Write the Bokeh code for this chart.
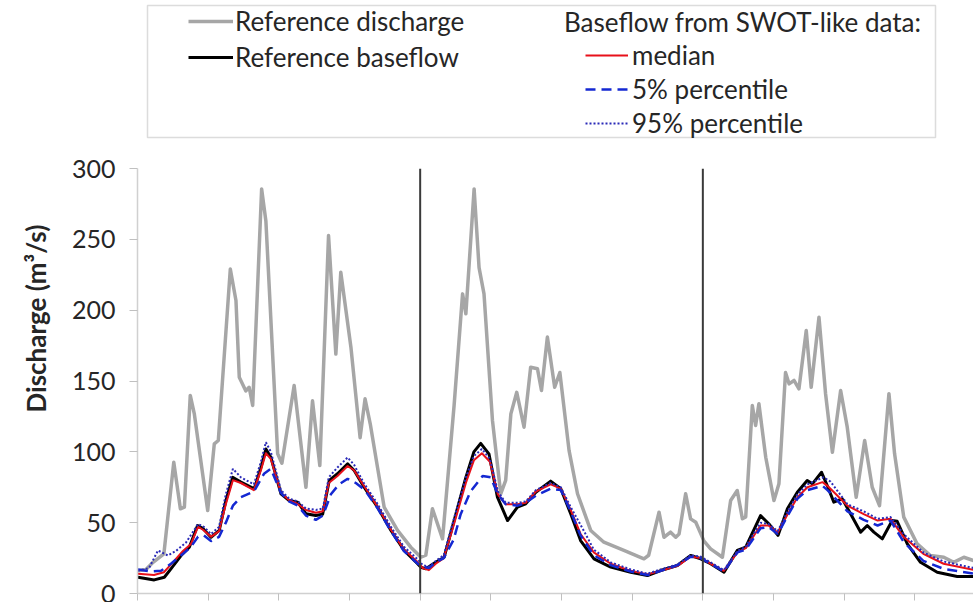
from bokeh.plotting import figure
from bokeh.layouts import column
from bokeh.models import Range1d, FixedTicker, Legend, LegendItem, Span, BoxAnnotation, Title
from bokeh.embed import file_html
from bokeh.resources import INLINE

# ---------------- data (x = month since start of record, y = m3/s) ----------------
discharge_pts = [(0.02, 16), (0.36, 17), (0.66, 22), (1.12, 28), (1.54, 92.7), (1.82, 59.8), (1.99, 61),
                 (2.24, 139.8), (2.41, 127), (2.98, 58.6), (3.26, 105.6), (3.43, 108), (3.94, 229),
                 (4.18, 206.8), (4.32, 152.7), (4.60, 143), (4.74, 145.6), (4.89, 132.7), (5.27, 285.6),
                 (5.45, 263), (5.95, 98.6), (6.13, 92), (6.65, 146.8), (7.15, 75), (7.43, 136), (7.74, 90.4),
                 (8.11, 252.7), (8.42, 169), (8.63, 226.8), (9.06, 173.9), (9.45, 110), (9.66, 137.4),
                 (9.88, 119.8), (10.19, 89), (10.47, 61), (11.04, 44.5), (11.60, 32.7), (12.03, 25.6),
                 (12.24, 27), (12.52, 59.8), (12.95, 38.6), (13.44, 132.7), (13.80, 211.5), (13.94, 197.4),
                 (14.29, 285.6), (14.50, 230), (14.71, 211.5), (15.07, 122), (15.42, 70.4), (15.63, 79.8),
                 (15.85, 126.8), (16.10, 142), (16.41, 117.4), (16.69, 159.7), (16.98, 158.6), (17.15, 143.3),
                 (17.40, 181), (17.71, 145.6), (17.93, 156), (18.32, 101), (18.68, 70.4), (19.24, 44.5),
                 (19.80, 36.2), (20.65, 30.4), (21.50, 24.5), (21.70, 27), (22.14, 57.4), (22.35, 39.7),
                 (22.63, 43.3), (22.85, 39.7), (22.99, 42), (23.27, 70.4), (23.48, 52.7), (23.70, 50.3),
                 (24.05, 37), (24.33, 31.5), (24.83, 25.6), (25.18, 65.6), (25.46, 72.7), (25.68, 52.7),
                 (25.82, 54), (26.10, 132.7), (26.24, 118.6), (26.38, 133.9), (26.67, 96.2), (27.02, 65.6),
                 (27.23, 77.4), (27.51, 156), (27.66, 148), (27.87, 150.4), (28.08, 144.5), (28.39, 185.6),
                 (28.60, 145.6), (28.93, 195), (29.21, 141), (29.50, 99.7), (29.85, 143.3), (30.13, 117.4),
                 (30.51, 68), (30.87, 108), (31.19, 75), (31.50, 62), (31.90, 141), (32.14, 98.6),
                 (32.53, 53.9), (33.10, 35), (33.66, 26.8), (34.23, 25.6), (34.65, 22), (35.08, 25.6),
                 (35.49, 23.3)]

ref_baseflow_pts = [(0.02, 11.5), (0.71, 9.6), (1.14, 11.5), (1.42, 17.4), (1.85, 26.8), (2.20, 32.7),
                    (2.55, 48), (2.77, 46), (3.12, 39.7), (3.47, 44.5), (3.75, 65.6), (4.04, 82), (4.39, 78.6),
                    (4.96, 73.9), (5.24, 89), (5.45, 102), (5.66, 96.2), (6.09, 70.4), (6.44, 65.6),
                    (6.80, 64.5), (7.15, 56.3), (7.57, 55), (7.86, 56), (8.14, 79.8), (8.49, 84.5),
                    (8.92, 91.5), (9.20, 86.8), (9.62, 75), (10.19, 61), (10.76, 44.5), (11.32, 30.4),
                    (11.89, 21), (12.03, 18.5), (12.24, 17.4), (12.66, 22), (13.02, 25.6), (13.44, 51.5),
                    (13.94, 82), (14.28, 100), (14.57, 106), (14.92, 98.6), (15.28, 68), (15.71, 51.5),
                    (16.13, 61), (16.48, 63.3), (16.91, 71.5), (17.54, 79.3), (17.97, 73.9), (18.39, 56.3),
                    (18.81, 37.4), (19.38, 24.5), (20.09, 18.6), (20.94, 15), (21.65, 12.7), (22.21, 16.2),
                    (22.92, 19.8), (23.48, 26.8), (23.91, 24.5), (24.33, 21), (24.90, 15), (25.46, 30.4),
                    (25.82, 32.7), (26.45, 55), (26.80, 49.2), (27.19, 41), (27.59, 59.8), (28.01, 71.5),
                    (28.43, 79.8), (28.65, 77.4), (29.04, 85.6), (29.28, 76.2), (29.56, 64.5), (29.92, 66.8),
                    (30.27, 56.3), (30.70, 43.3), (30.98, 48), (31.26, 43.3), (31.62, 38.6), (32.04, 51.5),
                    (32.25, 51), (32.68, 35), (33.24, 22), (33.95, 15), (34.80, 12), (35.49, 12)]

median_pts = [(0.02, 14), (0.70, 13), (1.12, 15), (1.50, 22), (1.93, 30), (2.27, 35), (2.57, 47), (2.78, 45),
              (3.12, 40), (3.46, 44), (3.75, 63), (4.05, 80), (4.39, 78), (4.94, 73), (5.24, 87), (5.45, 99),
              (5.66, 95), (6.09, 71), (6.43, 66), (6.81, 63), (7.15, 59), (7.57, 57), (7.87, 58), (8.12, 78),
              (8.49, 83), (8.92, 90), (9.19, 87), (9.61, 76), (10.20, 61), (10.76, 45), (11.31, 31),
              (11.90, 22), (12.11, 18), (12.37, 16.5), (12.66, 21), (13.00, 25), (13.42, 48), (13.94, 78),
              (14.28, 94), (14.62, 99), (14.96, 93), (15.30, 70), (15.63, 63), (16.14, 63), (16.48, 64),
              (16.91, 72), (17.54, 77), (17.97, 74), (18.39, 59), (18.81, 42), (19.37, 29), (20.09, 21),
              (20.94, 16), (21.66, 13.5), (22.21, 16), (22.93, 19.5), (23.48, 26), (23.91, 25), (24.33, 21),
              (24.89, 16), (25.47, 29), (25.82, 32), (26.45, 48), (26.79, 48), (27.18, 43), (27.60, 56),
              (28.02, 68), (28.44, 75), (29.08, 78.6), (29.29, 76), (30.14, 62), (30.83, 56), (31.42, 51.5),
              (31.97, 52.7), (32.52, 40), (33.36, 28), (34.22, 21), (35.49, 16.7)]

p5_pts = [(0.02, 17), (0.57, 15.5), (1.00, 16), (1.42, 21), (1.93, 28), (2.27, 33), (2.57, 40), (2.82, 41),
          (3.12, 37), (3.46, 40), (3.75, 50), (4.05, 62), (4.39, 68), (4.94, 72), (5.37, 84.5), (5.66, 88),
          (6.09, 71), (6.43, 65), (6.81, 62), (7.15, 55), (7.57, 52), (7.87, 55), (8.21, 70), (8.55, 77),
          (8.92, 81), (9.27, 78), (9.65, 73), (10.20, 60), (10.76, 44), (11.31, 30), (11.90, 21), (12.11, 19),
          (12.37, 18), (12.66, 22), (13.00, 25), (13.42, 38), (13.72, 56), (14.14, 72), (14.65, 83),
          (14.99, 82), (15.30, 70), (15.63, 63), (16.14, 62), (16.48, 64), (16.91, 69), (17.54, 74),
          (17.97, 73), (18.39, 58), (18.81, 41), (19.37, 27), (20.09, 20), (20.94, 15.5), (21.66, 13),
          (22.21, 16), (22.93, 20), (23.48, 26), (23.91, 25), (24.33, 21), (24.89, 15.5), (25.47, 29),
          (25.82, 31), (26.45, 46), (26.79, 47), (27.18, 42), (27.60, 55), (28.02, 67), (28.44, 73),
          (29.08, 76), (29.29, 73), (30.14, 58), (30.83, 52), (31.42, 48), (31.97, 51.5), (32.52, 36.5),
          (33.36, 23), (34.22, 17.4), (35.49, 14)]

p95_pts = [(0.02, 16), (0.49, 18), (0.87, 30.4), (1.29, 26.8), (1.63, 30), (2.06, 36), (2.57, 49), (2.82, 47),
           (3.12, 42), (3.46, 47), (3.75, 70), (4.05, 88), (4.39, 82), (4.94, 77), (5.24, 93), (5.45, 106.8),
           (5.66, 100), (6.09, 73), (6.43, 67), (6.81, 65), (7.15, 60), (7.57, 59), (7.87, 60), (8.12, 82),
           (8.49, 89), (8.92, 96), (9.19, 91), (9.61, 78), (10.20, 63), (10.76, 47), (11.31, 33), (11.90, 24),
           (12.11, 20), (12.37, 19), (12.66, 23), (13.00, 27), (13.42, 52), (13.94, 82), (14.28, 97),
           (14.62, 102), (14.96, 95), (15.30, 72), (15.63, 64), (16.14, 64), (16.48, 65), (16.91, 73),
           (17.54, 78), (17.97, 75), (18.39, 61), (18.94, 44.5), (19.37, 31), (20.09, 22), (20.94, 17),
           (21.66, 14), (22.21, 17), (22.93, 20.5), (23.48, 27), (23.91, 26), (24.33, 22), (24.89, 16.5),
           (25.47, 30), (25.82, 33), (26.45, 50), (26.79, 49), (27.18, 44), (27.60, 58), (28.02, 70),
           (28.44, 77), (29.12, 82), (29.42, 79), (30.14, 63), (30.83, 58), (31.42, 52.7), (31.97, 54),
           (32.52, 42), (33.36, 29), (34.22, 22.6), (35.49, 18)]

year_breaks = [12, 24]                 # months where a new year starts
x_ticks = list(range(0, 37, 3))        # quarterly ticks
y_ticks = [0, 50, 100, 150, 200, 250, 300]

series_labels = ["Reference discharge", "Reference baseflow", "median", "5% percentile", "95% percentile"]
legend_heading = "Baseflow from SWOT-like data:"
y_label = "Discharge (m³/s)"


def unzip(pts):
    return [a for a, _ in pts], [b for _, b in pts]


FONT = "Lato"
TXT = "#262626"
all_pts = [discharge_pts, ref_baseflow_pts, median_pts, p5_pts, p95_pts]
styles = [dict(line_color="#a6a6a6", line_width=3.5, line_join="round"),
          dict(line_color="#000000", line_width=3, line_join="round"),
          dict(line_color="#e8101a", line_width=2, line_join="round"),
          dict(line_color="#1428d2", line_width=2.5, line_dash="10 6"),
          dict(line_color="#2a2ab8", line_width=2, line_dash="2 2")]

# ---------------- main chart ----------------
p = figure(width=973, height=452, output_backend="svg", toolbar_location=None,
           x_range=Range1d(0, 35.49), y_range=Range1d(0, 300),
           min_border_left=137, min_border_top=18, min_border_bottom=9, min_border_right=0)
p.outline_line_color = None

p.xgrid.visible = False
p.ygrid.ticker = FixedTicker(ticks=[300])
p.ygrid.grid_line_color = "#d9d9d9"
p.ygrid.grid_line_width = 1.5

ya = p.yaxis[0]
ya.ticker = FixedTicker(ticks=y_ticks)
ya.major_label_text_font = FONT
ya.major_label_text_font_size = "25px"
ya.major_label_text_color = TXT
ya.major_label_standoff = 14
ya.axis_line_color = "#d0d0d0"
ya.axis_line_width = 1.5
ya.major_tick_line_color = "#c0c0c0"
ya.major_tick_in = 0
ya.major_tick_out = 8
ya.minor_tick_line_color = None

p.add_layout(Title(text=y_label, align="left", offset=181, standoff=33,
                   text_font=FONT, text_font_style="bold", text_font_size="26px",
                   text_color=TXT), "left")

xa = p.xaxis[0]
xa.ticker = FixedTicker(ticks=x_ticks)
xa.major_label_overrides = {t: "" for t in x_ticks}
xa.major_label_text_font_size = "1px"
xa.major_label_standoff = 0
xa.axis_line_color = "#d0d0d0"
xa.axis_line_width = 1.5
xa.major_tick_line_color = "#c0c0c0"
xa.major_tick_in = 0
xa.major_tick_out = 7
xa.minor_tick_line_color = None

for pts, st in zip(all_pts, styles):
    x, y = unzip(pts)
    p.line(x, y, **st)

for b in year_breaks:
    p.add_layout(Span(location=b, dimension="height", line_color="#3a3a3a", line_width=2))

# ---------------- legend panel (frame spans page y 3..139, x 137..973) ----------------
lg = figure(width=973, height=150, output_backend="svg", toolbar_location=None,
            x_range=Range1d(-2, -1), y_range=Range1d(-2, -1),
            min_border_left=137, min_border_right=0, min_border_top=3, min_border_bottom=11)
lg.axis.visible = False
lg.grid.visible = False
lg.outline_line_color = None

# key renderers carry the same series (kept out of view) so the legend can draw their line styles
keys = []
for pts, st in zip(all_pts, styles):
    x, y = unzip(pts)
    keys.append(lg.line(x, y, **st))

lg.add_layout(BoxAnnotation(left=10, right=798, top=134, bottom=2,
                            left_units="screen", right_units="screen",
                            top_units="screen", bottom_units="screen",
                            fill_alpha=0, line_color="#8c8c8c", line_width=1.5))

common = dict(border_line_color=None, background_fill_alpha=0, padding=0, margin=0,
              label_text_font=FONT, label_text_font_size="26px", label_text_color=TXT,
              glyph_height=20, label_height=20)

legA = Legend(items=[LegendItem(label=series_labels[0], renderers=[keys[0]]),
                     LegendItem(label=series_labels[1], renderers=[keys[1]])],
              location=(51, 66), glyph_width=45, label_standoff=2, spacing=4, **common)
legB1 = Legend(items=[LegendItem(label=legend_heading, renderers=[keys[2]])],
               location=(427, 101), glyph_width=0, label_standoff=0, spacing=2, **common)
legB2 = Legend(items=[LegendItem(label=series_labels[2], renderers=[keys[2]]),
                      LegendItem(label=series_labels[3], renderers=[keys[3]]),
                      LegendItem(label=series_labels[4], renderers=[keys[4]])],
               location=(448, 0), glyph_width=43, label_standoff=4, spacing=2, **common)
for L in (legA, legB1, legB2):
    lg.add_layout(L, "center")

open("out.html", "w").write(file_html(column(lg, p, spacing=0), INLINE))
